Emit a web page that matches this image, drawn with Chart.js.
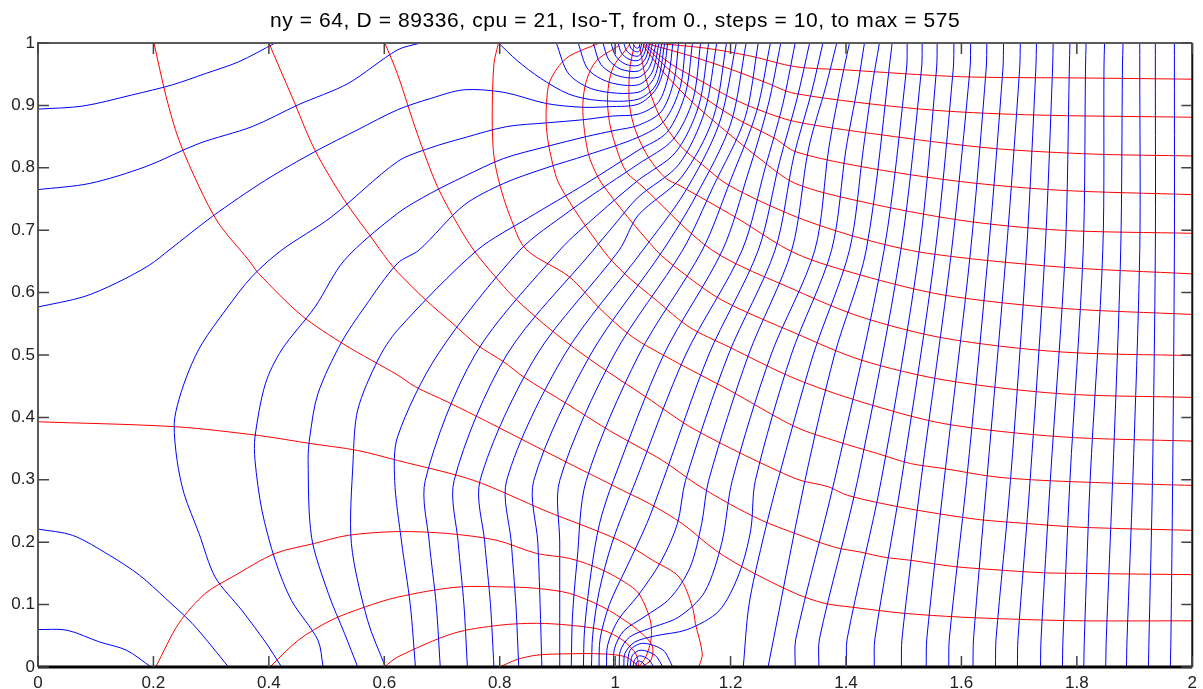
<!DOCTYPE html>
<html>
<head>
<meta charset="utf-8">
<script src="https://cdn.jsdelivr.net/npm/chart.js@4.4.1/dist/chart.umd.min.js"></script>
<style>
  html, body { margin: 0; padding: 0; background: #fff; }
</style>
</head>
<body>
<canvas id="isoChart" width="1203" height="689"></canvas>
<script>
const titleText = "ny = 64, D = 89336, cpu = 21, Iso-T, from 0., steps = 10, to max = 575";
const xTicks = [0, 0.2, 0.4, 0.6, 0.8, 1, 1.2, 1.4, 1.6, 1.8, 2];
const yTicks = [0, 0.1, 0.2, 0.3, 0.4, 0.5, 0.6, 0.7, 0.8, 0.9, 1];

// blue iso-T lines, each one a list of [x, y]
const isoCorners = [
  [[0,0.06],[0.05,0.059],[0.107,0.04],[0.153,0.027],[0.196,0]],
  [[0,0.221],[0.06,0.211],[0.124,0.179],[0.176,0.147],[0.221,0.11],[0.267,0.07],[0.302,0.032],[0.33,0]],
  [[0,0.894],[0.078,0.899],[0.164,0.917],[0.233,0.933],[0.29,0.951],[0.348,0.97],[0.411,1]],
  [[0,0.765],[0.09,0.775],[0.187,0.802],[0.279,0.839],[0.371,0.866],[0.451,0.901],[0.537,0.935],[0.623,0.989],[0.663,1]]
];
// arcs round the upper hot spot, both ends on the top edge
const isoTopArcs = [
  [[1.031,1],[1.033,0.995],[1.037,0.992],[1.040,0.992],[1.042,0.995],[1.043,1]],
  [[1.024,1],[1.027,0.992],[1.033,0.987],[1.040,0.986],[1.044,0.991],[1.046,1]],
  [[1.015,1],[1.019,0.989],[1.028,0.981],[1.040,0.979],[1.047,0.987],[1.050,1]],
  [[1.005,1],[1.011,0.984],[1.024,0.974],[1.040,0.972],[1.050,0.982],[1.055,1]],
  [[0.993,1],[1.001,0.979],[1.018,0.966],[1.040,0.964],[1.053,0.976],[1.060,1]],
  [[0.979,1],[0.989,0.973],[1.010,0.958],[1.040,0.955],[1.056,0.970],[1.065,1]],
  [[0.962,1],[0.975,0.966],[1.003,0.948],[1.040,0.945],[1.060,0.962],[1.071,1]],
  [[0.936,1],[0.953,0.958],[0.990,0.937],[1.040,0.933],[1.064,0.953],[1.076,1]],
  [[0.898,1],[0.920,0.950],[0.965,0.925],[1.040,0.921],[1.068,0.945],[1.081,1]],
  [[0.798,1],[0.830,0.972],[0.870,0.944],[0.920,0.918],[0.970,0.908],[1.040,0.910],[1.072,0.935],[1.086,1]]
];
// lines from the left edge or the bottom that wrap round the upper hot spot
const isoWrap = [
  [[0,0.577],[0.078,0.593],[0.135,0.615],[0.193,0.644],[0.227,0.668],[0.302,0.722],[0.394,0.78],[0.48,0.826],[0.554,0.861],[0.623,0.893],[0.68,0.911],[0.738,0.925],[0.807,0.921],[0.881,0.903],[0.944,0.897],[0.99,0.898],[1.040,0.902],[1.070,0.925],[1.085,0.96],[1.091,1]],
  [[0.422,0],[0.394,0.04],[0.353,0.091],[0.307,0.144],[0.279,0.214],[0.253,0.278],[0.241,0.331],[0.236,0.39],[0.244,0.428],[0.262,0.476],[0.284,0.518],[0.325,0.572],[0.37,0.625],[0.422,0.668],[0.508,0.721],[0.623,0.81],[0.68,0.832],[0.738,0.848],[0.812,0.866],[0.881,0.872],[0.944,0.877],[0.996,0.883],[1.040,0.886],[1.075,0.905],[1.093,0.95],[1.1,1]],
  [[0.494,0],[0.485,0.043],[0.439,0.107],[0.411,0.171],[0.388,0.251],[0.376,0.331],[0.376,0.369],[0.394,0.454],[0.422,0.508],[0.48,0.577],[0.531,0.652],[0.623,0.727],[0.68,0.759],[0.738,0.786],[0.807,0.815],[0.881,0.834],[0.95,0.85],[1.0,0.86],[1.040,0.868],[1.08,0.89],[1.102,0.94],[1.11,1]],
  [[0.554,0],[0.531,0.054],[0.503,0.118],[0.474,0.208],[0.468,0.331],[0.471,0.369],[0.485,0.438],[0.525,0.519],[0.566,0.577],[0.623,0.647],[0.66,0.668],[0.738,0.74],[0.807,0.775],[0.881,0.80],[0.95,0.82],[1.040,0.849],[1.085,0.875],[1.113,0.93],[1.122,1]],
  [[0.602,0],[0.571,0.075],[0.543,0.198],[0.546,0.331],[0.554,0.412],[0.589,0.492],[0.623,0.54],[0.761,0.668],[0.85,0.72],[0.95,0.775],[1.040,0.828],[1.09,0.857],[1.122,0.92],[1.134,1]],
  [[0.654,0],[0.645,0.1],[0.63,0.2],[0.618,0.299],[0.623,0.369],[0.692,0.5],[0.835,0.668],[0.92,0.73],[0.99,0.775],[1.040,0.806],[1.1,0.845],[1.135,0.91],[1.148,1]],
  [[0.697,0],[0.69,0.1],[0.678,0.2],[0.671,0.299],[0.757,0.5],[0.904,0.668],[0.97,0.725],[1.040,0.78],[1.105,0.825],[1.145,0.9],[1.162,1]],
  [[0.744,0],[0.738,0.1],[0.728,0.2],[0.721,0.299],[0.812,0.5],[0.962,0.668],[1.0,0.71],[1.040,0.753],[1.11,0.805],[1.155,0.89],[1.176,1]],
  [[0.790,0],[0.784,0.1],[0.774,0.2],[0.766,0.299],[0.864,0.5],[1.007,0.668],[1.040,0.724],[1.115,0.785],[1.17,0.88],[1.193,1]],
  [[0.833,0],[0.828,0.1],[0.82,0.2],[0.812,0.299],[0.912,0.5],[1.048,0.668],[1.12,0.76],[1.18,0.87],[1.21,1]],
  [[0.873,0],[0.87,0.1],[0.866,0.2],[0.859,0.299],[0.957,0.5],[1.083,0.668],[1.14,0.755],[1.2,0.87],[1.227,1]],
  [[0.904,0],[0.904,0.1],[0.904,0.2],[0.904,0.299],[0.998,0.5],[1.117,0.668],[1.17,0.77],[1.225,0.88],[1.248,1]],
  [[0.924,0],[0.926,0.08],[0.934,0.17],[0.95,0.299],[1.041,0.5],[1.151,0.668],[1.2,0.78],[1.245,0.89],[1.269,1]],
  [[0.945,0],[0.947,0.06],[0.958,0.15],[0.973,0.23],[0.997,0.299],[1.084,0.5],[1.186,0.668],[1.23,0.79],[1.265,0.9],[1.287,1]],
  [[0.959,0],[0.961,0.05],[0.972,0.12],[0.995,0.2],[1.036,0.299],[1.122,0.5],[1.220,0.668],[1.26,0.8],[1.29,0.9],[1.312,1]],
  [[0.972,0],[0.974,0.045],[0.99,0.1],[1.02,0.16],[1.055,0.23],[1.083,0.299],[1.162,0.5],[1.248,0.668],[1.285,0.81],[1.315,0.91],[1.337,1]],
  [[0.985,0],[0.987,0.035],[1.005,0.075],[1.04,0.115],[1.08,0.17],[1.108,0.23],[1.122,0.299],[1.196,0.5],[1.277,0.668],[1.31,0.82],[1.34,0.92],[1.360,1]],
  [[0.997,0],[0.999,0.03],[1.015,0.058],[1.05,0.08],[1.095,0.11],[1.13,0.16],[1.15,0.23],[1.162,0.299],[1.231,0.5],[1.306,0.668],[1.335,0.83],[1.365,0.93],[1.384,1]],
  [[1.007,0],[1.009,0.026],[1.025,0.048],[1.06,0.062],[1.11,0.08],[1.155,0.12],[1.185,0.2],[1.203,0.299],[1.270,0.5],[1.346,0.668],[1.37,0.83],[1.39,0.93],[1.406,1]],
  [[1.015,0],[1.017,0.022],[1.034,0.04],[1.07,0.05],[1.125,0.06],[1.18,0.09],[1.215,0.15],[1.235,0.22],[1.243,0.299],[1.305,0.5],[1.375,0.668],[1.40,0.83],[1.42,0.93],[1.432,1]]
];
// small loops round the lower cold spot
const isoBottomLoops = [
  [[1.036,0],[1.037,0.007],[1.041,0.0096],[1.048,0.007],[1.053,0]],
  [[1.031,0],[1.034,0.012],[1.043,0.018],[1.058,0.012],[1.067,0]],
  [[1.026,0],[1.030,0.019],[1.045,0.027],[1.069,0.019],[1.083,0]],
  [[1.021,0],[1.026,0.027],[1.048,0.038],[1.083,0.027],[1.1,0]]
];
// lines from the top edge down to the bottom edge on the right
const isoRight = [
  [[1.458,1],[1.445,0.93],[1.43,0.83],[1.406,0.668],[1.343,0.5],[1.282,0.299],[1.255,0.2],[1.232,0.1],[1.222,0]],
  [[1.480,1],[1.435,0.668],[1.38,0.5],[1.329,0.299],[1.265,0]],
  [[1.506,1],[1.505,0.96],[1.466,0.668],[1.380,0.299],[1.313,0.045],[1.312,0]],
  [[1.532,1],[1.531,0.96],[1.495,0.668],[1.420,0.299],[1.354,0.045],[1.353,0]],
  [[1.558,1],[1.557,0.96],[1.527,0.668],[1.461,0.299],[1.402,0.045],[1.401,0]],
  [[1.587,1],[1.586,0.96],[1.555,0.668],[1.496,0.299],[1.450,0.045],[1.449,0]],
  [[1.616,1],[1.615,0.96],[1.583,0.668],[1.530,0.299],[1.497,0.045],[1.496,0]],
  [[1.644,1],[1.643,0.96],[1.616,0.668],[1.570,0.299],[1.540,0.045],[1.539,0]],
  [[1.673,1],[1.672,0.96],[1.647,0.668],[1.609,0.299],[1.579,0.045],[1.578,0]],
  [[1.702,1],[1.701,0.96],[1.678,0.668],[1.644,0.299],[1.621,0.045],[1.620,0]],
  [[1.730,1],[1.729,0.96],[1.713,0.668],[1.685,0.299],[1.660,0.045],[1.659,0]],
  [[1.759,1],[1.758,0.96],[1.745,0.668],[1.719,0.299],[1.698,0.045],[1.697,0]],
  [[1.788,1],[1.787,0.96],[1.780,0.668],[1.754,0.299],[1.738,0.045],[1.737,0]],
  [[1.816,1],[1.815,0.96],[1.811,0.668],[1.788,0.299],[1.776,0.045],[1.775,0]],
  [[1.848,1],[1.847,0.96],[1.845,0.668],[1.823,0.299],[1.813,0.045],[1.812,0]],
  [[1.880,1],[1.879,0.96],[1.876,0.668],[1.862,0.299],[1.851,0.045],[1.850,0]],
  [[1.909,1],[1.909,0.96],[1.909,0.668],[1.897,0.299],[1.887,0.045],[1.886,0]],
  [[1.936,1],[1.936,0.96],[1.936,0.668],[1.931,0.299],[1.925,0.045],[1.924,0]],
  [[1.969,1],[1.969,0.96],[1.969,0.668],[1.966,0.299],[1.963,0.045],[1.962,0]]
];

// red flux lines
const fluxFromTop = [
  [[0.201,1],[0.222,0.914],[0.244,0.845],[0.279,0.77],[0.313,0.711],[0.365,0.652],[0.382,0.631],[0.456,0.564],[0.532,0.516],[0.623,0.468],[0.654,0.449],[0.709,0.425],[0.755,0.404],[0.8,0.383],[0.876,0.347],[0.944,0.315],[0.979,0.299],[1.013,0.283],[1.059,0.262],[1.116,0.23],[1.174,0.187],[1.231,0.155],[1.312,0.118],[1.363,0.102],[1.409,0.096],[1.501,0.086],[1.598,0.08],[1.713,0.076],[1.811,0.074],[2,0.074]],
  [[0.4,1],[0.44,0.914],[0.48,0.828],[0.531,0.748],[0.577,0.689],[0.606,0.652],[0.623,0.633],[0.672,0.588],[0.718,0.551],[0.761,0.516],[0.807,0.489],[0.841,0.465],[0.916,0.422],[0.99,0.379],[1.082,0.331],[1.139,0.294],[1.197,0.262],[1.254,0.235],[1.312,0.214],[1.38,0.192],[1.426,0.184],[1.466,0.176],[1.512,0.171],[1.587,0.161],[1.656,0.156],[1.742,0.151],[1.805,0.15],[2,0.148]],
  [[0.601,1],[0.623,0.95],[0.657,0.855],[0.692,0.77],[0.726,0.711],[0.755,0.668],[0.79,0.628],[0.824,0.593],[0.893,0.537],[0.967,0.486],[1.053,0.433],[1.139,0.38],[1.312,0.302],[1.369,0.289],[1.403,0.275],[1.484,0.258],[1.558,0.246],[1.633,0.236],[1.713,0.23],[1.805,0.224],[2,0.219]],
  [[0.798,1],[0.79,0.967],[0.787,0.879],[0.79,0.818],[0.801,0.77],[0.818,0.722],[0.845,0.67],[0.921,0.625],[0.973,0.575],[1.03,0.529],[1.099,0.492],[1.197,0.444],[1.312,0.385],[1.386,0.361],[1.455,0.342],[1.512,0.326],[1.57,0.318],[1.656,0.305],[1.742,0.299],[1.885,0.294],[2,0.291]]
];
const fluxFromSource = [
  [[0.973,1],[0.916,0.976],[0.887,0.939],[0.881,0.901],[0.881,0.864],[0.887,0.826],[0.904,0.772],[0.979,0.668],[1.019,0.628],[1.071,0.588],[1.128,0.545],[1.197,0.513],[1.312,0.462],[1.426,0.425],[1.57,0.39],[1.771,0.369],[2,0.362]],
  [[1.007,0.996],[0.967,0.971],[0.95,0.939],[0.944,0.901],[0.947,0.858],[0.956,0.815],[0.979,0.772],[1.071,0.668],[1.111,0.636],[1.185,0.588],[1.312,0.535],[1.426,0.492],[1.57,0.46],[1.771,0.438],[2,0.432]],
  [[1.025,0.997],[0.996,0.96],[0.987,0.917],[0.99,0.874],[1.002,0.832],[1.019,0.794],[1.045,0.772],[1.168,0.668],[1.312,0.604],[1.426,0.561],[1.57,0.527],[1.771,0.505],[2,0.499]],
  [[1.033,0.997],[1.025,0.954],[1.025,0.9],[1.036,0.858],[1.059,0.815],[1.088,0.783],[1.111,0.772],[1.21,0.72],[1.312,0.663],[1.426,0.628],[1.57,0.596],[1.771,0.575],[2,0.565]],
  [[1.042,0.997],[1.053,0.944],[1.076,0.885],[1.111,0.837],[1.151,0.805],[1.197,0.772],[1.312,0.722],[1.426,0.687],[1.541,0.663],[1.771,0.641],[2,0.630]],
  [[1.048,0.997],[1.082,0.955],[1.134,0.905],[1.19,0.86],[1.25,0.815],[1.312,0.775],[1.426,0.746],[1.598,0.716],[1.771,0.70],[2,0.695]],
  [[1.05,0.998],[1.09,0.96],[1.143,0.92],[1.208,0.88],[1.277,0.847],[1.312,0.826],[1.426,0.802],[1.598,0.778],[1.771,0.764],[2,0.757]],
  [[1.053,0.998],[1.099,0.965],[1.151,0.938],[1.197,0.914],[1.243,0.895],[1.312,0.874],[1.484,0.85],[1.656,0.831],[1.828,0.822],[2,0.819]],
  [[1.055,0.999],[1.128,0.98],[1.2,0.958],[1.26,0.937],[1.312,0.919],[1.53,0.894],[1.713,0.885],[2,0.881]],
  [[1.062,1],[1.155,0.992],[1.235,0.979],[1.312,0.962],[1.398,0.957],[1.598,0.946],[1.805,0.944],[2,0.942]]
];
const fluxBottom = [
  [[0,0.393],[0.239,0.385],[0.382,0.371],[0.473,0.358],[0.554,0.347],[0.623,0.331],[0.755,0.299],[0.88,0.25],[1.007,0.203],[1.065,0.171],[1.111,0.144],[1.134,0.096],[1.139,0.07],[1.151,0.021],[1.145,0]],
  [[0.204,0],[0.244,0.07],[0.29,0.118],[0.336,0.144],[0.411,0.182],[0.479,0.198],[0.537,0.211],[0.623,0.217],[0.709,0.214],[0.795,0.203],[0.864,0.182],[0.921,0.174],[0.979,0.155],[1.036,0.123],[1.053,0.096],[1.062,0.07],[1.062,0.043],[1.053,0.016],[1.041,0]],
  [[0.402,0],[0.451,0.043],[0.508,0.075],[0.566,0.096],[0.623,0.112],[0.726,0.128],[0.824,0.128],[0.864,0.126],[0.921,0.118],[0.979,0.096],[1.024,0.07],[1.053,0.048],[1.065,0.032],[1.062,0.011],[1.045,0]],
  [[0.6,0],[0.623,0.016],[0.72,0.054],[0.8,0.067],[0.864,0.07],[0.921,0.067],[0.979,0.059],[1.013,0.043],[1.036,0.021],[1.041,0]],
  [[0.8,0],[0.83,0.012],[0.864,0.019],[0.91,0.021],[0.979,0.021],[1.019,0.016],[1.042,0]]
];

function toPoints(line) {
  return line.map(p => ({ x: p[0], y: p[1] }));
}

function makeSets(lines, color) {
  return lines.map(line => ({
    data: toPoints(line),
    showLine: true,
    borderColor: color,
    borderWidth: 1,
    pointRadius: 0,
    fill: false,
    tension: 0.3
  }));
}

const datasets = [].concat(
  makeSets(isoCorners, "#0000ff"),
  makeSets(isoTopArcs, "#0000ff"),
  makeSets(isoWrap, "#0000ff"),
  makeSets(isoBottomLoops, "#0000ff"),
  makeSets(isoRight, "#0000ff"),
  makeSets(fluxFromTop, "#ff0000"),
  makeSets(fluxFromSource, "#ff0000"),
  makeSets(fluxBottom, "#ff0000")
);

// frame, inward ticks and title, all placed from the chart's scales
const matlabFrame = {
  id: "matlabFrame",
  afterDatasetsDraw(chart) {
    const { ctx, chartArea: a, scales } = chart;
    ctx.save();
    ctx.lineWidth = 2;
    ctx.strokeStyle = "#5a5a5a";
    ctx.beginPath();
    ctx.moveTo(a.left, a.bottom); ctx.lineTo(a.left, a.top); ctx.lineTo(a.right, a.top);
    ctx.stroke();
    ctx.strokeStyle = "#111";
    ctx.beginPath();
    ctx.moveTo(a.right, a.top); ctx.lineTo(a.right, a.bottom);
    ctx.stroke();
    ctx.lineWidth = 3;
    ctx.strokeStyle = "#000";
    ctx.beginPath();
    ctx.moveTo(a.left, a.bottom); ctx.lineTo(a.right, a.bottom);
    ctx.stroke();

    ctx.lineWidth = 1.5;
    ctx.strokeStyle = "#444";
    const len = 11;
    ctx.beginPath();
    xTicks.forEach(v => {
      const px = scales.x.getPixelForValue(v);
      ctx.moveTo(px, a.bottom); ctx.lineTo(px, a.bottom - len);
      ctx.moveTo(px, a.top); ctx.lineTo(px, a.top + len);
    });
    yTicks.forEach(v => {
      const py = scales.y.getPixelForValue(v);
      ctx.moveTo(a.left, py); ctx.lineTo(a.left + len, py);
      ctx.moveTo(a.right, py); ctx.lineTo(a.right - len, py);
    });
    ctx.stroke();

    ctx.fillStyle = "#000";
    ctx.font = "21px Arial, 'Liberation Sans', sans-serif";
    ctx.letterSpacing = "0.6px";
    ctx.textAlign = "center";
    ctx.textBaseline = "middle";
    ctx.fillText(titleText, (a.left + a.right) / 2, 21);
    ctx.restore();
  }
};

const tickFont = { family: "Arial, 'Liberation Sans', sans-serif", size: 17 };

new Chart(document.getElementById("isoChart"), {
  type: "scatter",
  data: { datasets },
  options: {
    responsive: false,
    animation: false,
    devicePixelRatio: 1,
    layout: { padding: { top: 43, right: 3, left: 0, bottom: 0 } },
    plugins: { legend: { display: false }, tooltip: { enabled: false } },
    scales: {
      x: {
        type: "linear", min: 0, max: 2,
        afterBuildTicks: s => { s.ticks = xTicks.map(v => ({ value: v })); },
        afterFit: s => { s.height = 22; },
        grid: { display: false, drawTicks: false },
        border: { display: false },
        ticks: { color: "#222", padding: 6, maxRotation: 0, font: tickFont, callback: v => String(v) }
      },
      y: {
        type: "linear", min: 0, max: 1,
        afterBuildTicks: s => { s.ticks = yTicks.map(v => ({ value: v })); },
        afterFit: s => { s.width = 38; },
        grid: { display: false, drawTicks: false },
        border: { display: false },
        ticks: { color: "#222", padding: 3, font: tickFont, callback: v => String(v) }
      }
    }
  },
  plugins: [matlabFrame]
});
</script>
</body>
</html>
